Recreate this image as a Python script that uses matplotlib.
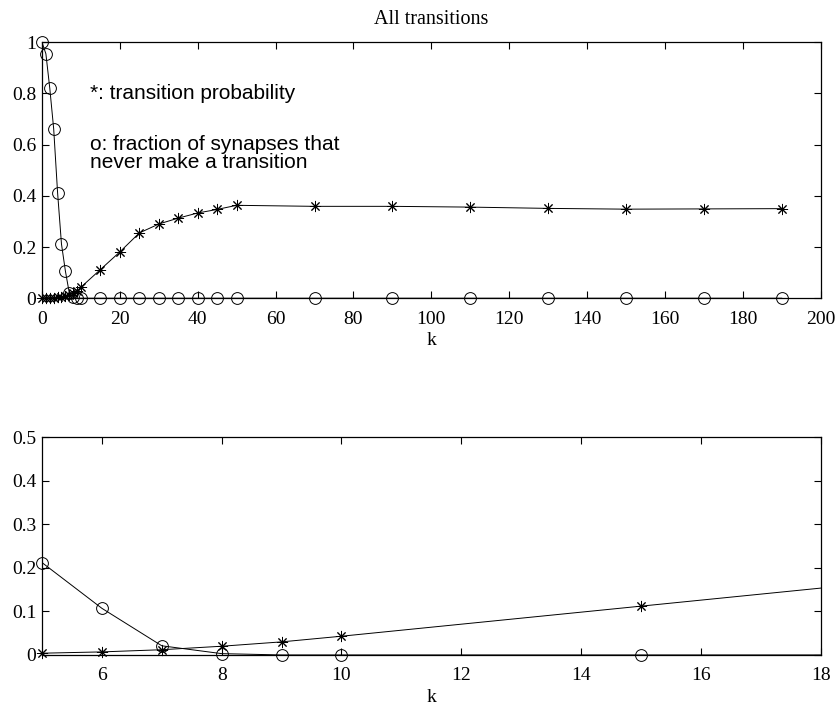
import matplotlib
matplotlib.use("Agg")
import matplotlib.pyplot as plt
from matplotlib.ticker import FuncFormatter

k = [0, 1, 2, 3, 4, 5, 6, 7, 8, 9, 10, 15, 20, 25, 30, 35, 40, 45, 50,
     70, 90, 110, 130, 150, 170, 190]
trans_prob = [0.0, 0.0005, 0.001, 0.002, 0.003, 0.004, 0.007, 0.012, 0.02, 0.03, 0.043,
              0.112, 0.181, 0.255, 0.29, 0.313, 0.333, 0.347, 0.363,
              0.359, 0.359, 0.356, 0.351, 0.348, 0.349, 0.350]
never_frac = [1.0, 0.955, 0.82, 0.662, 0.413, 0.212, 0.107, 0.021, 0.003, 0.0, 0.0,
              0.0, 0.0, 0.0, 0.0, 0.0, 0.0, 0.0, 0.0,
              0.0, 0.0, 0.0, 0.0, 0.0, 0.0, 0.0]

title = "All transitions"
xlabel = "k"
note1 = "*: transition probability"
note2 = "o: fraction of synapses that\nnever make a transition"

serif = "Liberation Serif"
sans = "Liberation Sans"
fs = 14

fig = plt.figure(figsize=(8.4, 7.05), dpi=100)
ax1 = fig.add_axes([0.05, 0.577, 0.927, 0.363])
ax2 = fig.add_axes([0.05, 0.071, 0.927, 0.309])

limits = {ax1: ((0, 200), (0, 1)), ax2: ((5, 18), (0, 0.5))}

star = (8, 2, 0)
lw = 0.7
for ax in (ax1, ax2):
    (x0, x1), (y0, y1) = limits[ax]
    ax.set_xlim(x0, x1)
    ax.set_ylim(y0, y1)
    # lines (clipped to the axes)
    ax.plot(k, trans_prob, color="black", lw=lw)
    ax.plot(k, never_frac, color="black", lw=lw)
    # markers (not clipped at the border, only those inside the range)
    for ys, mk, ms in ((trans_prob, star, 8), (never_frac, "o", 8.5)):
        pts = [(a, b) for a, b in zip(k, ys) if x0 <= a <= x1 and y0 <= b <= y1]
        xs = [p[0] for p in pts]
        yv = [p[1] for p in pts]
        ax.plot(xs, yv, linestyle="none", marker=mk, markersize=ms,
                markerfacecolor="none", markeredgecolor="black",
                markeredgewidth=0.7, clip_on=False)
    ax.tick_params(direction="in", top=True, right=True, length=5, width=0.8,
                   labelsize=fs)
    ax.tick_params(axis="x", pad=9)
    ax.tick_params(axis="y", pad=4)
    for s in ax.spines.values():
        s.set_linewidth(0.9)
    ax.set_xlabel(xlabel, fontfamily=serif, fontsize=fs, labelpad=3)
    ax.yaxis.set_major_formatter(FuncFormatter(lambda v, p: f"{v:g}"))

ax1.set_xticks(range(0, 201, 20))
ax1.set_yticks([0, 0.2, 0.4, 0.6, 0.8, 1.0])
ax1.set_title(title, fontfamily=serif, fontsize=fs + 0.5, pad=13)
ax1.text(12.3, 0.80, note1, fontfamily=sans, fontsize=15, va="center", ha="left")
ax1.text(12.3, 0.565, note2, fontfamily=sans, fontsize=15, va="center", ha="left",
         linespacing=0.95)

ax2.set_xticks(range(6, 19, 2))
ax2.set_yticks([0, 0.1, 0.2, 0.3, 0.4, 0.5])

for ax in (ax1, ax2):
    for lab in ax.get_xticklabels() + ax.get_yticklabels():
        lab.set_fontfamily(serif)

fig.savefig("out.png", dpi=100)
